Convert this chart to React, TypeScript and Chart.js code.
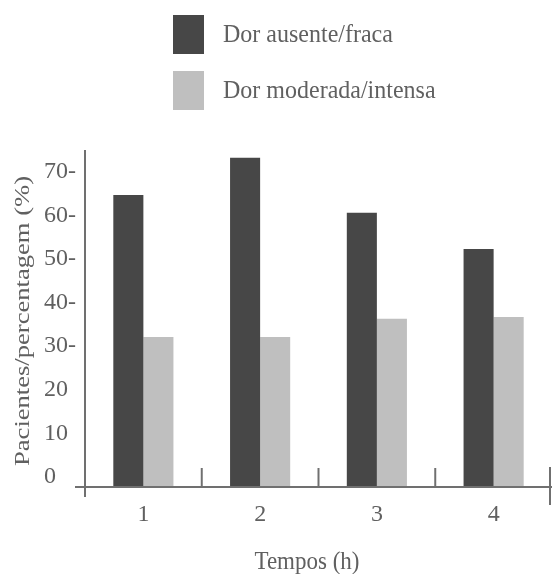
import React, { useEffect, useRef } from "react";
import { Chart, registerables } from "chart.js";

Chart.register(...registerables);

const categories = ["1", "2", "3", "4"];
const seriesNames = ["Dor ausente/fraca", "Dor moderada/intensa"];
const ausenteFraca = [64.7, 73.2, 60.6, 52.3];
const moderadaIntensa = [32.1, 32.1, 36.3, 36.7];
const yTickValues = [0, 10, 20, 30, 40, 50, 60, 70];
const yTickLabels = ["0", "10", "20", "30-", "40-", "50-", "60-", "70-"];
const xTitle = "Tempos (h)";
const yTitle = "Pacientes/percentagem (%)";

const darkColor = "#474747";
const lightColor = "#bfbfbf";
const textColor = "#606060";
const axisColor = "#707070";
const FONT = "'Liberation Serif', 'Times New Roman', serif";

const W = 552;
const H = 574;

const decorPlugin = {
  id: "decor",
  afterDraw(chart: any) {
    const ctx = chart.ctx as CanvasRenderingContext2D;
    const area = chart.chartArea;
    const xs = chart.scales.x;
    ctx.save();
    ctx.strokeStyle = axisColor;
    ctx.lineWidth = 2;
    // y axis line
    ctx.beginPath();
    ctx.moveTo(area.left, area.top);
    ctx.lineTo(area.left, area.bottom + 10);
    ctx.stroke();
    // x axis line
    ctx.beginPath();
    ctx.moveTo(area.left - 10, area.bottom);
    ctx.lineTo(area.right, area.bottom);
    ctx.stroke();
    // interior ticks between categories
    for (let i = 0; i < categories.length - 1; i++) {
      const px = (xs.getPixelForValue(i) + xs.getPixelForValue(i + 1)) / 2;
      ctx.beginPath();
      ctx.moveTo(px, area.bottom - 19);
      ctx.lineTo(px, area.bottom);
      ctx.stroke();
    }
    // right end tick
    ctx.beginPath();
    ctx.moveTo(area.right - 2, area.bottom - 20);
    ctx.lineTo(area.right - 2, area.bottom + 18);
    ctx.stroke();

    // legend
    const ds = chart.data.datasets;
    const legendY = [15, 71];
    ds.forEach((d: any, i: number) => {
      ctx.fillStyle = d.backgroundColor;
      ctx.fillRect(173, legendY[i], 31, 39);
      ctx.fillStyle = textColor;
      ctx.font = `24px ${FONT}`;
      ctx.textAlign = "left";
      ctx.textBaseline = "middle";
      ctx.save();
      ctx.translate(223, legendY[i] + 20);
      ctx.scale(1, 1.05);
      ctx.fillText(d.label, 0, 0);
      ctx.restore();
    });

    // x title
    ctx.fillStyle = textColor;
    ctx.font = `23px ${FONT}`;
    ctx.textAlign = "center";
    ctx.textBaseline = "middle";
    ctx.save();
    ctx.translate(307, 562);
    ctx.scale(1, 1.08);
    ctx.fillText(xTitle, 0, 0);
    ctx.restore();

    // y title
    ctx.save();
    ctx.translate(23, 321);
    ctx.rotate(-Math.PI / 2);
    ctx.font = `22px ${FONT}`;
    const tw = ctx.measureText(yTitle).width;
    ctx.scale(290 / tw, 1);
    ctx.fillText(yTitle, 0, 0);
    ctx.restore();

    ctx.restore();
  },
};

export default function App() {
  const ref = useRef<HTMLCanvasElement | null>(null);
  useEffect(() => {
    if (!ref.current) return;
    const chart = new Chart(ref.current, {
      type: "bar",
      data: {
        labels: categories,
        datasets: [
          {
            label: seriesNames[0],
            data: ausenteFraca,
            backgroundColor: darkColor,
            base: -2.3,
            barPercentage: 1,
            categoryPercentage: 0.515,
          } as any,
          {
            label: seriesNames[1],
            data: moderadaIntensa,
            backgroundColor: lightColor,
            base: -2.3,
            barPercentage: 1,
            categoryPercentage: 0.515,
          } as any,
        ],
      },
      options: {
        animation: false,
        responsive: false,
        devicePixelRatio: 1,
        layout: { padding: { top: 150, left: 44, right: 0, bottom: 0 } },
        plugins: {
          legend: { display: false },
          tooltip: { enabled: false },
        },
        scales: {
          x: {
            grid: { display: false },
            border: { display: false },
            ticks: {
              color: textColor,
              font: { family: FONT, size: 24 },
              padding: 5,
            },
            afterFit(scale: any) {
              scale.height = H - 487;
            },
          },
          y: {
            min: -2.3,
            max: 75,
            grid: { display: false },
            border: { display: false },
            afterBuildTicks(scale: any) {
              scale.ticks = yTickValues.map((v) => ({ value: v }));
            },
            ticks: {
              color: textColor,
              font: { family: FONT, size: 24 },
              crossAlign: "far",
              callback: (v: any) => {
                const i = yTickValues.indexOf(Number(v));
                return i >= 0 ? yTickLabels[i] : "";
              },
            },
            afterFit(scale: any) {
              scale.width = 85 - 44;
            },
          },
        },
      },
      plugins: [decorPlugin],
    });
    return () => chart.destroy();
  }, []);
  return (
    <div style={{ position: "absolute", left: 0, top: 0, width: W, height: H, background: "#fff" }}>
      <canvas ref={ref} width={W} height={H} />
    </div>
  );
}
